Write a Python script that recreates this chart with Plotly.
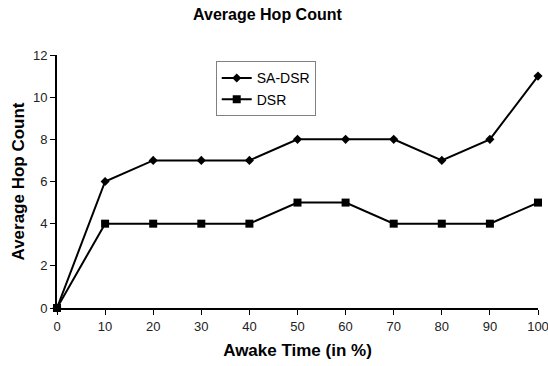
import plotly.graph_objects as go

awake_time = [0, 10, 20, 30, 40, 50, 60, 70, 80, 90, 100]
sa_dsr = [0, 6, 7, 7, 7, 8, 8, 8, 7, 8, 11]
dsr = [0, 4, 4, 4, 4, 5, 5, 4, 4, 4, 5]
x_ticks = [0, 10, 20, 30, 40, 50, 60, 70, 80, 90, 100]
y_ticks = [0, 2, 4, 6, 8, 10, 12]

font = "Liberation Sans, Arial, sans-serif"

fig = go.Figure()
fig.add_trace(go.Scatter(x=awake_time, y=sa_dsr, name="SA-DSR", mode="lines+markers",
                         line=dict(color="black", width=2),
                         marker=dict(symbol="diamond", size=7, color="black"),
                         cliponaxis=False))
fig.add_trace(go.Scatter(x=awake_time, y=dsr, name="DSR", mode="lines+markers",
                         line=dict(color="black", width=2),
                         marker=dict(symbol="square", size=8, color="black"),
                         cliponaxis=False))

fig.update_layout(
    width=548, height=366,
    margin=dict(l=57, r=10, t=55, b=58),
    paper_bgcolor="white", plot_bgcolor="white",
    font=dict(family=font, color="black", size=12),
    title=dict(text="<b>Average Hop Count</b>", x=0.488, xanchor="center", y=0.962, yanchor="middle",
               font=dict(size=16, family=font)),
    showlegend=True,
    legend=dict(x=0.33, y=0.975, xanchor="left", yanchor="top",
                bordercolor="#808080", borderwidth=1, bgcolor="white",
                font=dict(size=14, family=font), tracegroupgap=0, itemwidth=30),
    xaxis=dict(range=[0, 100], tickvals=x_ticks, ticks="outside", ticklen=5, tickwidth=1,
               tickcolor="black", showline=True, linecolor="black", linewidth=2,
               showgrid=False, zeroline=False, tickfont=dict(size=13, color="#222"),
               ticklabeloverflow="allow", automargin=False,
               title=dict(text="<b>Awake Time (in %)</b>", font=dict(size=17), standoff=12)),
    yaxis=dict(range=[0, 12], tickvals=y_ticks, ticks="outside", ticklen=5, tickwidth=1,
               tickcolor="black", showline=True, linecolor="black", linewidth=2,
               showgrid=False, zeroline=False, tickfont=dict(size=13, color="#222"),
               automargin=False,
               title=dict(text="<b>Average Hop Count</b>", font=dict(size=17), standoff=4)),
)

fig.write_html("out.html")
